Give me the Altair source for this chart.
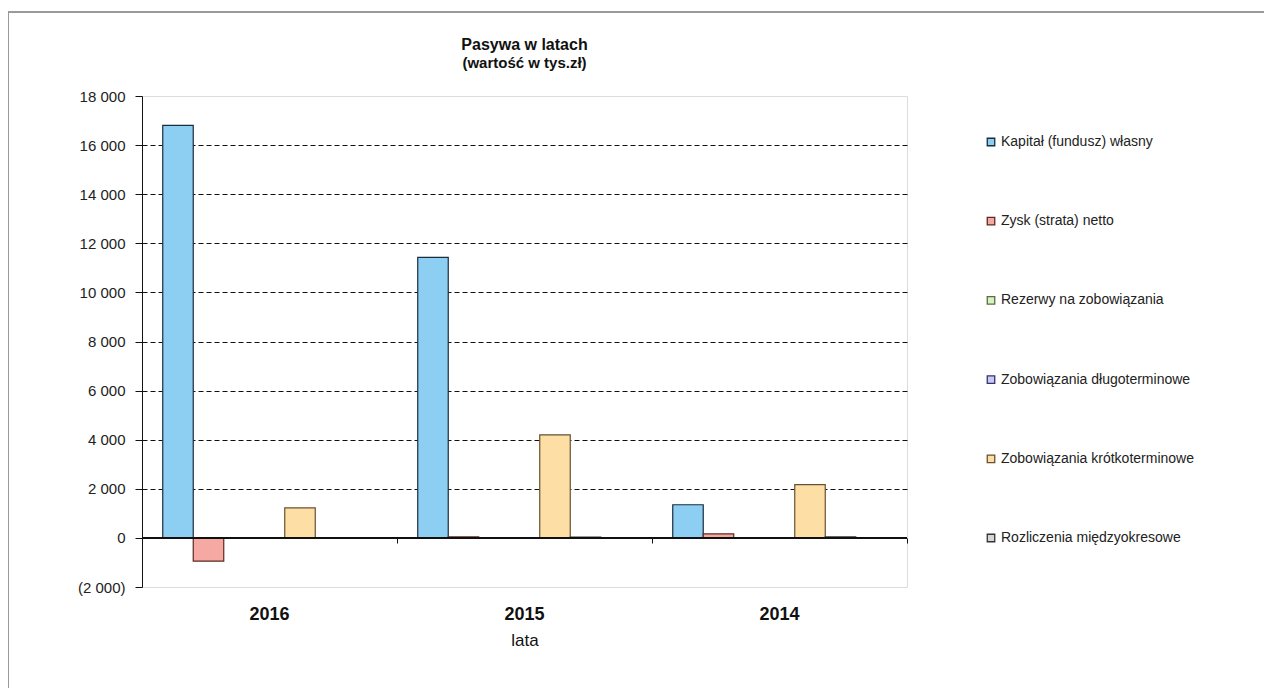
import altair as alt
import pandas as pd

years = ["2016", "2015", "2014"]
series = [
    "Kapitał (fundusz) własny",
    "Zysk (strata) netto",
    "Rezerwy na zobowiązania",
    "Zobowiązania długoterminowe",
    "Zobowiązania krótkoterminowe",
    "Rozliczenia międzyokresowe",
]
kapital = [16800, 11430, 1350]
zysk = [-950, 40, 160]
rezerwy = [0, 0, 0]
dlugo = [0, 0, 0]
krotko = [1220, 4200, 2170]
rozliczenia = [0, 30, 40]

fills = ["#8DCFF2", "#F5A9A2", "#D9F0C4", "#C9C9F2", "#FDDFA6", "#D6D6D6"]
strokes = ["#1B2C3C", "#5C2A22", "#55703A", "#34346E", "#6A5030", "#333333"]

rows = []
for s, vals in zip(series, [kapital, zysk, rezerwy, dlugo, krotko, rozliczenia]):
    for y, v in zip(years, vals):
        rows.append({"year": y, "series": s, "value": v})
df = pd.DataFrame(rows)

FONT = "Liberation Sans"

legend = alt.Legend(
    title=None, orient="none", legendX=842, legendY=39,
    symbolType="square", symbolSize=56, symbolStrokeWidth=1.3,
    labelFont=FONT, labelFontSize=14, labelColor="#222",
    labelOffset=3, rowPadding=65.2, padding=0, labelLimit=400,
)

xscale = alt.Scale(paddingInner=0, paddingOuter=0)

bars = alt.Chart(df).transform_filter("datum.value != 0").mark_bar(strokeWidth=1.2).encode(
    x=alt.X("year:N", sort=years, scale=xscale,
            axis=alt.Axis(title="lata", orient="bottom", labelFont=FONT, labelFontSize=18, labelFontWeight="bold",
                          labelColor="#111", labelAngle=0, labelPadding=18, ticks=False, domain=False,
                          titleFont=FONT, titleFontSize=17, titleFontWeight="normal",
                          titleColor="#111", titlePadding=9)),
    xOffset=alt.XOffset("series:N", scale=alt.Scale(domain=series + ["_"], paddingInner=0, paddingOuter=0.68)),
    y=alt.Y("value:Q", scale=alt.Scale(domain=[-2000, 18000], nice=False, zero=False),
            axis=alt.Axis(title=None, values=list(range(-2000, 18001, 2000)),
                          labelExpr="datum.value < 0 ? '(' + replace(format(-datum.value, ','), ',', ' ') + ')' : replace(format(datum.value, ','), ',', ' ')",
                          labelFont=FONT, labelFontSize=15, labelColor="#222", labelPadding=10,
                          tickSize=7, tickColor="#111", domainColor="#111",
                          grid=True, gridColor="#111", gridDash=[5, 3], gridWidth=1.2,
                          gridOpacity={"condition": {"test": "datum.value >= 18000 || datum.value <= 0", "value": 0}, "value": 1})),
    color=alt.Color("series:N", scale=alt.Scale(domain=series, range=fills), legend=legend),
    stroke=alt.Stroke("series:N", scale=alt.Scale(domain=series, range=strokes), legend=legend),
)

zero = alt.Chart(df).mark_rule(color="#111", strokeWidth=1.2).encode(y=alt.datum(0))

ticks = alt.Chart(df).mark_point(opacity=0).encode(
    x=alt.X("year:N", sort=years, scale=xscale,
            axis=alt.Axis(title=None, orient="bottom", labels=False, domain=False, ticks=True, tickSize=5,
                          tickColor="#111", bandPosition=1, tickExtra=True, offset=-49))
)

frame = alt.Chart(df).mark_rect(fill=None, stroke="#9a9a9a", strokeWidth=1).encode(
    x=alt.value(-134), x2=alt.value(1140), y=alt.value(-84), y2=alt.value(620)
)

chart = alt.layer(frame, bars, zero, ticks).resolve_axis(x="independent").properties(
    width=765, height=491,
    autosize=alt.AutoSizeParams(type="none"),
    padding={"left": 134, "top": 88, "right": 357, "bottom": 101},
    title=alt.TitleParams(
        text="Pasywa w latach", subtitle="(wartość w tys.zł)",
        anchor="middle", frame="group", font=FONT, fontSize=16, fontWeight="bold", color="#111",
        subtitleFont=FONT, subtitleFontSize=15, subtitleFontWeight="bold", subtitleColor="#111",
        subtitlePadding=3, offset=-59,
    ),
).configure_view(stroke="#8a8a8a", strokeWidth=1).configure(background="white")

chart.save("out.html", embed_options={"renderer": "svg", "actions": False})
